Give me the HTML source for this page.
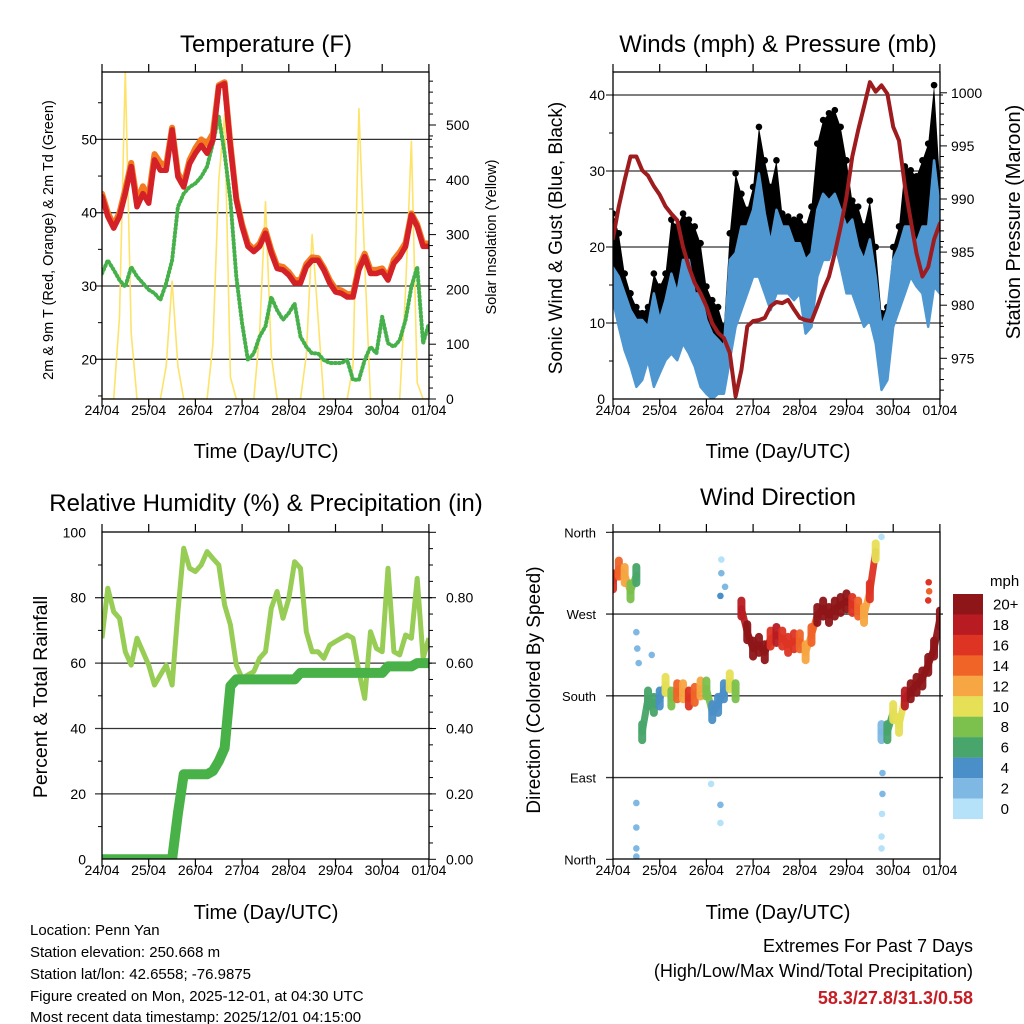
<!DOCTYPE html>
<html>
<head>
<meta charset="utf-8">
<style>
  html,body{margin:0;padding:0;background:#fff;}
  svg{display:block;font-family:"Liberation Sans",Arial,sans-serif;}
  text{fill:#000;}
</style>
</head>
<body>
<svg id="chart" xmlns="http://www.w3.org/2000/svg" width="1024" height="1024" viewBox="0 0 1024 1024">
  <rect x="0" y="0" width="1024" height="1024" fill="#fff"/>
  <defs>
    <clipPath id="c1"><rect x="102" y="72" width="327" height="327"/></clipPath>
    <clipPath id="c2"><rect x="613" y="72" width="327" height="327"/></clipPath>
    <clipPath id="c3"><rect x="102" y="532" width="327" height="327"/></clipPath>
    <clipPath id="c4"><rect x="613" y="532" width="327" height="327"/></clipPath>
  </defs>

  <!-- Titles -->
  <text x="266" y="52" font-size="24" text-anchor="middle">Temperature (F)</text>
  <text x="778" y="52" font-size="24" text-anchor="middle">Winds (mph) &amp; Pressure (mb)</text>
  <text x="266" y="511" font-size="24" text-anchor="middle">Relative Humidity (%) &amp; Precipitation (in)</text>
  <text x="778" y="505" font-size="24" text-anchor="middle">Wind Direction</text>

  <!-- X axis titles -->
  <text x="266" y="458" font-size="20" text-anchor="middle">Time (Day/UTC)</text>
  <text x="778" y="458" font-size="20" text-anchor="middle">Time (Day/UTC)</text>
  <text x="266" y="919" font-size="20" text-anchor="middle">Time (Day/UTC)</text>
  <text x="778" y="919" font-size="20" text-anchor="middle">Time (Day/UTC)</text>

  <!-- Y axis titles -->
  <text transform="translate(53,240) rotate(-90)" font-size="14.5" text-anchor="middle">2m &amp; 9m T (Red, Orange) &amp; 2m Td (Green)</text>
  <text transform="translate(496,237) rotate(-90)" font-size="14.5" text-anchor="middle">Solar Insolation (Yellow)</text>
  <text transform="translate(562,238) rotate(-90)" font-size="19" text-anchor="middle">Sonic Wind &amp; Gust (Blue, Black)</text>
  <text transform="translate(1020,222) rotate(-90)" font-size="20" text-anchor="middle">Station Pressure (Maroon)</text>
  <text transform="translate(47,697) rotate(-90)" font-size="19.5" text-anchor="middle">Percent &amp; Total Rainfall</text>
  <text transform="translate(540,690) rotate(-90)" font-size="19" text-anchor="middle">Direction (Colored By Speed)</text>

  <!-- Footer -->
  <g font-size="15">
    <text x="30" y="935">Location: Penn Yan</text>
    <text x="30" y="957">Station elevation: 250.668 m</text>
    <text x="30" y="979">Station lat/lon: 42.6558; -76.9875</text>
    <text x="30" y="1001">Figure created on Mon, 2025-12-01, at 04:30 UTC</text>
    <text x="30" y="1022">Most recent data timestamp: 2025/12/01 04:15:00</text>
  </g>
  <text x="973" y="952" font-size="18" text-anchor="end">Extremes For Past 7 Days</text>
  <text x="973" y="977" font-size="18" text-anchor="end">(High/Low/Max Wind/Total Precipitation)</text>
  <text x="973" y="1004" font-size="18" font-weight="bold" text-anchor="end" style="fill:#c41e24">58.3/27.8/31.3/0.58</text>

  <text x="990" y="586" font-size="15">mph</text>

  <g id="layer"></g>
</svg>

<script>
// ---------- data (sampled every 3 hours, day offsets from 24/04 00 UTC) ----------
const days = [0,0.125,0.25,0.375,0.5,0.625,0.75,0.875,1,1.125,1.25,1.375,1.5,1.625,1.75,1.875,2,2.125,2.25,2.375,2.5,2.625,2.75,2.875,3,3.125,3.25,3.375,3.5,3.625,3.75,3.875,4,4.125,4.25,4.375,4.5,4.625,4.75,4.875,5,5.125,5.25,5.375,5.5,5.625,5.75,5.875,6,6.125,6.25,6.375,6.5,6.625,6.75,6.875,7];
const dayLabels = ["24/04","25/04","26/04","27/04","28/04","29/04","30/04","01/04"];

const temp2m = [42.2,39.5,37.9,39.5,42.6,46.3,40.8,42.6, 41.3,47.2,45.8,45.8,51.3,44.9,43.5,46.7, 48.1,49.2,48.1,49.9,57.2,57.6,49,41.7, 38.1,35.4,34.7,35.4,37.2,34.5,32.4,32.2, 31.5,30.4,30.4,32.6,33.5,33.5,32.2,30.4, 29.2,29,28.5,28.5,32.2,34,31.7,31.7, 32,30.8,33.1,34,35.4,39.7,38.1,35.4, 35.4];
const temp9m = [42.6,40,38.3,40,43.2,46.8,41.6,43.6, 42.2,48,46.8,46.5,51.6,45.4,44,47.2, 48.8,50,49.4,50.8,57.4,57.8,49.4,42, 38.4,35.8,35,35.8,37.6,34.9,32.8,32.6, 31.9,30.8,30.8,33,33.9,33.8,32.5,30.8, 29.6,29.4,28.9,28.9,32.6,34.4,32.2,32.2, 32.4,31.2,33.6,34.6,35.9,39.9,38.4,35.8, 35.8];
const dewpoint = [31.7,33.5,32.2,30.8,29.9,32.6,31.3,30.4, 29.5,29,28.1,30.4,33.5,40.8,42.6,43.5, 44,44.9,46.3,49.5,53.1,48.1,41.7,31.3, 24.9,19.9,20.8,23.1,24.5,28.5,26.7,25.4, 26.3,27.6,23.1,21.7,20.8,20.8,19.9,19.5, 19.5,19.5,19.9,17.2,17.2,19.9,21.7,20.8, 25.8,22.2,21.7,22.6,25.4,29.9,32.6,22.2, 24.9];
const solar = [0,0,0,150,600,120,0,0, 0,0,0,60,215,60,0,0, 0,0,0,100,400,520,40,0, 0,0,0,120,360,80,0,0, 0,0,0,80,300,150,0,0, 0,0,0,60,530,250,0,0, 0,0,0,0,200,470,30,0, 0];

const windLow = [13,9.5,6.4,4.3,1.6,2.5,5.1,1.6, 3.4,5.1,6,5.1,7.3,6,4.3,1.6, 0.7,0,0.7,0.7,5.1,9.5,11.7,13.9, 16.1,16.1,13.9,11.7,13.9,13.9,13.9,13, 13.9,8.6,9.5,16.1,18.3,18.3,20.5,17.4, 13.9,13.9,11.7,9.5,10.4,7.3,1.2,2.5, 9.5,11.7,13.9,16.1,14.8,13.9,9.5,14.8, 13.9];
const windHigh = [17.3,16.1,13.9,11.7,10.4,10.4,9.5,13.9, 10.4,13,16.5,13.9,18.3,18.3,13.9,13.9, 10.4,8.6,7.8,6.9,18.3,19.2,22.7,22.7, 24.9,29.7,24.4,20.5,24.9,22.7,22.7,20.5, 20.5,18.3,19.2,24.9,27,26.1,27,24.9, 22.7,23.6,20,18.3,21,16.1,9.5,11.7, 18.3,20,22.7,22.7,20.5,22.7,22.7,31.4, 24.9];
const gust = [24.4,21.8,16.5,13.9,12.1,11.3,12.1,16.5, 14.8,16.5,23.6,22.7,24.4,23.6,22.7,20.5, 14.8,13,12.1,9.5,21.8,29.7,27,24.9, 27.9,35.8,31.4,27.9,31.4,24.4,24,23.6, 24,22.7,25.3,33.6,36.7,37.6,38,35.8, 31.4,26.1,25.3,22.7,26.1,20,11.3,12.1, 20,22.7,30.6,30.1,29.3,31.4,33.6,41.3, 28.8];
const pressure = [986.3,989.3,991.8,994,994,992.7,992.2,991.2, 990.4,989.3,988.6,988,985.5,983.6,982.1,981.1, 979.9,978.3,977.4,976.9,975.5,971.4,973.9,978, 978.5,978.6,978.8,979.9,980.3,980.2,980.5,979.6, 978.8,978.6,978.5,979.9,981.4,982.7,984.9,987.4, 990.2,994,996.5,998.7,1001,1000.1,1000.7,999.9, 996.8,995.5,991.2,988,984.9,982.7,983.6,986.2, 987.7];

const humidity = [67.6,82.9,75.7,73.7,63.5,59.4,67.6,63.5, 59.4,53.3,56.4,59.4,53.3,75.7,95.1,89, 88,90,94.1,92,90,77.8,71.7,59.4, 55.4,56.4,57.4,61.5,63.5,76.8,81.9,73.7, 79.8,91,89,69.6,63.5,63.5,61.5,65.5, 66.6,67.6,68.6,67.6,57.4,49.2,69.6,64.5, 63.5,89,63.5,62.5,68.6,67.6,85.9,61.5, 67.6];
const precip = [0,0,0,0,0,0,0,0, 0,0,0,0,0,0.14,0.26,0.26, 0.26,0.26,0.26,0.27,0.30,0.34,0.53,0.55, 0.55,0.55,0.55,0.55,0.55,0.55,0.55,0.55, 0.55,0.55,0.57,0.57,0.57,0.57,0.57,0.57, 0.57,0.57,0.57,0.57,0.57,0.57,0.57,0.57, 0.57,0.59,0.59,0.59,0.59,0.59,0.60,0.60, 0.60];

const windDir = [306,320,313,295,313,140,177,170, 177,192,177,185,185,177,181,188, 188,162,170,185,196,185,276,250, 232,236,228,243,247,243,236,240, 240,228,247,269,276,269,276,280, 284,280,276,269,295,339,140,140, 162,148,177,185,192,199,214,232, 265];
const windSpd = [17,14,12,8,6,6,7,6, 5,10,8,14,12,16,14,13, 8,4,4,5,10,8,18,20, 20,20,20,17,18,16,16,16, 15,12,14,20,20,20,20,20, 20,16,15,12,17,10,3,6, 10,10,18,20,20,20,20,20, 20];
const outlierDay = [0.5,0.5,0.5,0.5,0.5,0.52,0.55,0.83,2.1,2.3,2.3,2.3,2.32,2.32,2.4,5.75,5.75,5.76,5.77,5.77,5.75,6.75,6.76,6.77];
const outlierDir = [3,12,35,62,250,232,216,225,83,40,60,290,315,330,300,12,25,50,72,95,355,285,305,295];
const outlierSpd = [3,3,3,3,3,3,2,2,0,0,3,4,3,0,3,0,0,1,2,3,1,17,16,14];

const speedLabels = ["0","2","4","6","8","10","12","14","16","18","20+"];
const speedColors = ["#b5e2f8","#7fb9e3","#4a8fc7","#48a56b","#7cc04e","#e6e057","#f6a642","#f06428","#de3424","#b81c22","#8e1518"];

// ---------- scales ----------
const X1 = d => 102 + d*46.7;
const X2 = d => 613 + d*46.7;
const yT = t => 359.3 - (t-20)*7.33;
const ySol = s => 399 - s*0.548;
const yW = w => 399 - w*7.6;
const yP = p => 358.3 - (p-975)*10.62;
const yRH = v => 859.3 - v*3.27;
const yPr = p => yRH(p*100);
const yDir = g => 859.3 - g/360*327;
const spdColor = s => speedColors[Math.max(0, Math.min(10, Math.floor(s/2)))];

const NS = 'http://www.w3.org/2000/svg';
const layer = document.getElementById('layer');
function mk(tag, attrs, parent){
  const e = document.createElementNS(NS, tag);
  for (const k in attrs) e.setAttribute(k, attrs[k]);
  (parent || layer).appendChild(e);
  return e;
}
function pts(vals, xf, yf){
  return vals.map((v,i)=> xf(days[i]).toFixed(1)+','+yf(v).toFixed(1)).join(' ');
}

// ---------- axes helper ----------
function frame(x0, y0, name){
  const r = mk('rect', {x:x0, y:y0, width:327, height:327, fill:'none', stroke:'#000', 'stroke-width':1.3});
  
  
}
function xAxis(xf, yTop, yBot, name){
  dayLabels.forEach((lab, i) => {
    const x = xf(i);
    const t1 = mk('line', {x1:x, y1:yTop, x2:x, y2:yTop-8, stroke:'#000', 'stroke-width':1.2});
    
    
    const t2 = mk('line', {x1:x, y1:yBot, x2:x, y2:yBot+8, stroke:'#000', 'stroke-width':1.2});
    
    
    const tx = mk('text', {x:x, y:yBot+16, 'font-size':14, 'text-anchor':'middle'});
    tx.textContent = lab;
    
    
  });
}
function grid(x0, y, name){
  const g = mk('line', {x1:x0-7, y1:y, x2:x0+330, y2:y, stroke:'#333', 'stroke-width':1.3});
  
  
}
function tickLabel(x, y, txt, anchor, name, size){
  const t = mk('text', {x:x, y:y+5, 'font-size':size||14, 'text-anchor':anchor});
  t.textContent = txt;
  
  
}
function sideTick(x, y, len, name){
  const t = mk('line', {x1:x, y1:y, x2:x+len, y2:y, stroke:'#000', 'stroke-width':1});
  
  
}

// ================= Panel 1: Temperature =================
[20,30,40,50].forEach(v => { grid(102, yT(v), 'temp'); tickLabel(97, yT(v), String(v), 'end', 'temp-y-tick-label'); });
[15,25,35,45,55].forEach(v => sideTick(102, yT(v), -4, 'temp-minor-tick'));
for (let s=0; s<=600; s+=20){ if (ySol(s) >= 72) sideTick(429, ySol(s), s%100===0 ? 7 : 4, 'solar-tick'); }
[0,100,200,300,400,500].forEach(v => tickLabel(446, ySol(v), String(v), 'start', 'solar-tick-label'));

const g1 = mk('g', {'clip-path':'url(#c1)'});


const solLine = mk('polyline', {points:pts(solar, X1, ySol), fill:'none', stroke:'#fde36a', 'stroke-width':1.6, 'stroke-linejoin':'round'}, g1);


const tdLine = mk('polyline', {points:pts(dewpoint, X1, yT), fill:'none', stroke:'#46b04a', 'stroke-width':4, 'stroke-dasharray':'1 3', 'stroke-linecap':'round', 'stroke-linejoin':'round'}, g1);


const t9Line = mk('polyline', {points:pts(temp9m, X1, yT), fill:'none', stroke:'#f47a20', 'stroke-width':6, 'stroke-linejoin':'round', 'stroke-linecap':'round'}, g1);


const t2Line = mk('polyline', {points:pts(temp2m, X1, yT), fill:'none', stroke:'#d42027', 'stroke-width':5.5, 'stroke-linejoin':'round', 'stroke-linecap':'round'}, g1);


frame(102, 72, 'temperature');
xAxis(X1, 72, 399, 'temp');

// ================= Panel 2: Winds & Pressure =================
[0,10,20,30,40].forEach(v => { if (v>0) grid(613, yW(v), 'wind'); tickLabel(605, yW(v), String(v), 'end', 'wind-y-tick-label'); });
[5,15,25,35].forEach(v => sideTick(613, yW(v), -4, 'wind-minor-tick'));
for (let p=972; p<=1000; p++){ sideTick(940, yP(p), p%5===0 ? 7 : 4, 'pressure-tick'); }
[975,980,985,990,995,1000].forEach(v => tickLabel(951, yP(v), String(v), 'start', 'pressure-tick-label'));

const g2 = mk('g', {'clip-path':'url(#c2)'});


const gustArea = mk('polygon', {points: pts(gust, X2, yW) + ' ' + pts(windLow, X2, yW).split(' ').reverse().join(' '), fill:'#000'}, g2);


gust.forEach((v,i) => {
  const c = mk('circle', {cx:X2(days[i]), cy:yW(v), r:3.3, fill:'#000'}, g2);
  
  
});
const windArea = mk('polygon', {points: pts(windHigh, X2, yW) + ' ' + pts(windLow, X2, yW).split(' ').reverse().join(' '), fill:'#4f97d1', stroke:'#4f97d1', 'stroke-width':2.5, 'stroke-linejoin':'round'}, g2);


const presLine = mk('polyline', {points:pts(pressure, X2, yP), fill:'none', stroke:'#9e1b1e', 'stroke-width':4, 'stroke-linejoin':'round', 'stroke-linecap':'round'}, g2);


frame(613, 72, 'winds');
xAxis(X2, 72, 399, 'wind');

// ================= Panel 3: Humidity & Precip =================
[0,20,40,60,80,100].forEach(v => { if (v>0 && v<100) grid(102, yRH(v), 'humidity'); tickLabel(86, yRH(v), String(v), 'end', 'humidity-y-tick-label'); });
[10,30,50,70,90].forEach(v => sideTick(102, yRH(v), -4, 'humidity-minor-tick'));
for (let p=0; p<=100; p+=5){ sideTick(429, yRH(p), p%20===0 ? 7 : 4, 'precip-tick'); }
["0.00","0.20","0.40","0.60","0.80"].forEach(v => tickLabel(446, yPr(parseFloat(v)), v, 'start', 'precip-tick-label'));

const g3 = mk('g', {'clip-path':'url(#c3)'});


const rhLine = mk('polyline', {points:pts(humidity, X1, yRH), fill:'none', stroke:'#97cc55', 'stroke-width':5, 'stroke-linejoin':'round'}, g3);


const prLine = mk('polyline', {points:pts(precip, X1, yPr), fill:'none', stroke:'#48b248', 'stroke-width':10, 'stroke-linejoin':'round', 'stroke-linecap':'round'}, g3);


frame(102, 532, 'humidity');
xAxis(X1, 532, 859, 'humidity');

// ================= Panel 4: Wind Direction =================
const dirLabels = ["North","East","South","West","North"];
[0,90,180,270,360].forEach((g,i) => { if (g>0 && g<360) grid(613, yDir(g), 'direction'); else sideTick(613, yDir(g), -7, 'direction-tick'); tickLabel(596, yDir(g), dirLabels[i], 'end', 'direction-tick-label', 13); });

const g4 = mk('g', {'clip-path':'url(#c4)'});


windDir.forEach((g,i) => {
  const x = X2(days[i]), y = yDir(g);
  if (i < windDir.length-1 && Math.abs(windDir[i+1]-g) < 60){
    const seg = mk('line', {x1:x, y1:y, x2:X2(days[i+1]), y2:yDir(windDir[i+1]), stroke:spdColor(windSpd[i]), 'stroke-width':7, 'stroke-linecap':'round', opacity:0.95}, g4);
    
    
  }
  const blob = mk('line', {x1:x, y1:y-8, x2:x, y2:y+8, stroke:spdColor(windSpd[i]), 'stroke-width':8, 'stroke-linecap':'round', opacity:0.95}, g4);
  
  
});
outlierDay.forEach((d,i) => {
  const c = mk('circle', {cx:X2(d), cy:yDir(outlierDir[i]), r:3.3, fill:spdColor(outlierSpd[i])}, g4);
  
  
});
frame(613, 532, 'direction');
xAxis(X2, 532, 859, 'direction');

// colorbar
speedColors.slice().reverse().forEach((col, i) => {
  const r = mk('rect', {x:953, y:594 + i*20.45, width:30, height:20.6, fill:col});
  
  
  const lab = speedLabels[10-i];
  const t = mk('text', {x: lab === '20+' ? 993 : 1009, y:594 + i*20.45 + 15.5, 'font-size':15, 'text-anchor': lab === '20+' ? 'start' : 'end'});
  t.textContent = lab;
  
  
});
</script>
</body>
</html>
